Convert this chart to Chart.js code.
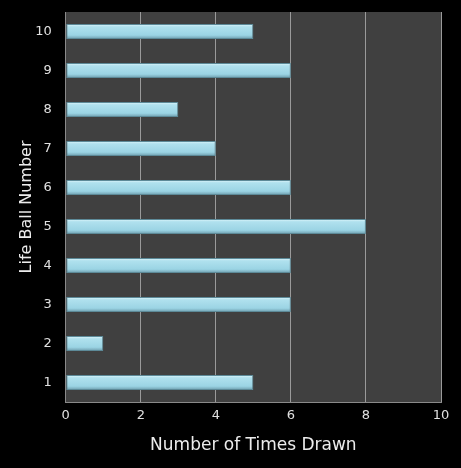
<!DOCTYPE html>
<html>
<head>
<meta charset="utf-8">
<script src="https://cdn.jsdelivr.net/npm/chart.js@4"></script>
<style>
  html, body { margin: 0; padding: 0; background: #000; }
  #wrap { width: 461px; height: 468px; }
</style>
</head>
<body>
<div id="wrap"><canvas id="chart"></canvas></div>
<script>
// Life ball numbers and how often each was drawn
const ballNumbers = ['1', '2', '3', '4', '5', '6', '7', '8', '9', '10'];
const timesDrawn = [5, 1, 6, 6, 8, 6, 4, 3, 6, 5];
const xTicks = [0, 2, 4, 6, 8, 10];

const BAR_PCT = 0.38;

// fill the plot area dark grey
const plotBg = {
    id: 'plotBg',
    beforeDraw(chart) {
        const { ctx, chartArea: a } = chart;
        ctx.save();
        ctx.fillStyle = '#404040';
        ctx.fillRect(a.left, a.top, a.right - a.left, a.bottom - a.top);
        ctx.restore();
    }
};

// vertical gradient for each bar so it looks like a tube
function barFill(context) {
    const chart = context.chart;
    const yScale = chart.scales.y;
    if (!yScale || !chart.chartArea) return '#a2d8e7';
    const yc = yScale.getPixelForValue(context.dataIndex);
    const half = (yScale.height / ballNumbers.length) * BAR_PCT / 2;
    const g = chart.ctx.createLinearGradient(0, yc - half, 0, yc + half);
    g.addColorStop(0, '#e2f7fc');
    g.addColorStop(0.18, '#b0e1ee');
    g.addColorStop(0.75, '#9bd4e4');
    g.addColorStop(1, '#6e9dad');
    return g;
}

new Chart(document.getElementById('chart'), {
    type: 'bar',
    data: {
        labels: ballNumbers,
        datasets: [{
            data: timesDrawn,
            backgroundColor: barFill,
            borderColor: '#5d8a98',
            borderWidth: 1,
            borderSkipped: false,
            barPercentage: BAR_PCT,
            categoryPercentage: 1
        }]
    },
    options: {
        indexAxis: 'y',
        responsive: true,
        maintainAspectRatio: false,
        animation: false,
        layout: { padding: { top: 12, right: 20, bottom: 12, left: 0 } },
        plugins: {
            legend: { display: false },
            tooltip: { enabled: false }
        },
        scales: {
            x: {
                min: 0,
                max: 10,
                afterBuildTicks: axis => { axis.ticks = xTicks.map(v => ({ value: v })); },
                grid: { color: '#9a9a9a', lineWidth: 1, drawTicks: false },
                border: { color: '#8a8a8a' },
                ticks: { color: '#e0e0e0', padding: 6, font: { family: 'DejaVu Sans', size: 13 } },
                title: {
                    display: true,
                    text: 'Number of Times Drawn',
                    color: '#ececec',
                    padding: { top: 6, bottom: 0 },
                    font: { family: 'DejaVu Sans', size: 17 }
                }
            },
            y: {
                reverse: true,
                // labels sit inside their bands, no extra room needed above
                afterFit: axis => { axis.paddingTop = 0; axis.paddingBottom = 0; },
                grid: { display: false, drawTicks: false },
                border: { color: '#8a8a8a' },
                ticks: { color: '#e0e0e0', padding: 14, font: { family: 'DejaVu Sans', size: 13 } },
                title: {
                    display: true,
                    text: 'Life Ball Number',
                    color: '#ececec',
                    padding: { top: 17, bottom: -15 },
                    font: { family: 'DejaVu Sans', size: 16 }
                }
            }
        }
    },
    plugins: [plotBg]
});
</script>
</body>
</html>
